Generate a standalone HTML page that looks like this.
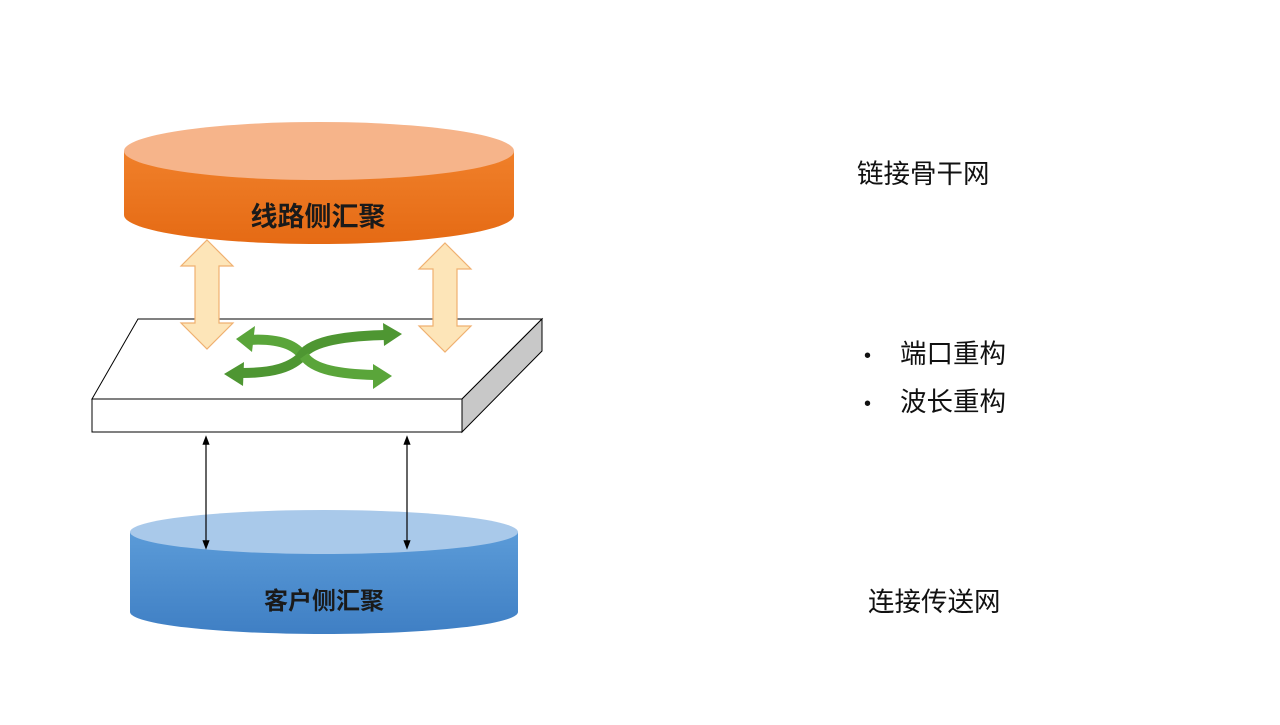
<!DOCTYPE html>
<html><head><meta charset="utf-8"><style>
body{margin:0;background:#fff;width:1280px;height:720px;overflow:hidden}
</style></head><body>
<svg width="1280" height="720" xmlns="http://www.w3.org/2000/svg" style="font-family:'Liberation Sans','Noto Sans CJK SC',sans-serif">
<defs>
<linearGradient id="og" x1="0" y1="0" x2="0" y2="1"><stop offset="0" stop-color="#f0802a"/><stop offset="1" stop-color="#e56a14"/></linearGradient>
<linearGradient id="bg" x1="0" y1="0" x2="0" y2="1"><stop offset="0" stop-color="#5b9bd8"/><stop offset="1" stop-color="#3f7fc4"/></linearGradient>
<marker id="ah" markerWidth="8" markerHeight="8" refX="4" refY="4" orient="auto-start-reverse"><path d="M0,1 L8,4 L0,7 z" fill="#000"/></marker>
</defs>
<path d="M124,151 L124,215 A195,29 0 0 0 514,215 L514,151 Z" fill="url(#og)"/>
<ellipse cx="319" cy="151" rx="195" ry="29" fill="#f6b48a"/>
<text x="318" y="226" font-size="27" font-weight="bold" text-anchor="middle" fill="#1a1a1a">线路侧汇聚</text>
<path d="M130,532 L130,612 A194,22 0 0 0 518,612 L518,532 Z" fill="url(#bg)"/>
<ellipse cx="324" cy="532" rx="194" ry="22" fill="#a9c9ea"/>
<text x="324" y="609" font-size="24" font-weight="bold" text-anchor="middle" fill="#1a1a1a">客户侧汇聚</text>
<polygon points="138,319 542,319 462,399 92,399" fill="#fff" stroke="#000" stroke-width="1"/>
<rect x="92" y="399" width="370" height="33" fill="#fff" stroke="#000" stroke-width="1"/>
<polygon points="462,399 542,319 542,351 462,432" fill="#c8c8c8" stroke="#000" stroke-width="1"/>
<g fill="#fde5b8" stroke="#f0b070" stroke-width="1.2">
<polygon points="207,240 233,266 219,266 219,323 233,323 207,349 181,323 195,323 195,266 181,266"/>
<polygon points="445,243 471,269 457,269 457,326 471,326 445,352 419,326 433,326 433,269 419,269"/>
</g>
<g fill="none" stroke-width="10">
<path d="M248,340 C280,338 298,345 305,360" stroke="#5aa53a"/>
<path d="M300,358 C308,342 340,336 385,335" stroke="#4e9632"/>
<path d="M242,373 C272,373 292,368 304,354" stroke="#4e9632"/>
<path d="M304,356 C314,370 340,374 374,375" stroke="#5aa53a"/>
</g>
<g>
<polygon points="236,339 255,326 252,352" fill="#5aa53a"/>
<polygon points="402,334 383,323 384,346" fill="#4e9632"/>
<polygon points="224,374 244,362 243,386" fill="#4e9632"/>
<polygon points="392,376 373,364 373,389" fill="#5aa53a"/>
</g>
<line x1="206" y1="440" x2="206" y2="545" stroke="#000" stroke-width="1.2" marker-start="url(#ah)" marker-end="url(#ah)"/>
<line x1="407" y1="440" x2="407" y2="545" stroke="#000" stroke-width="1.2" marker-start="url(#ah)" marker-end="url(#ah)"/>
<g font-size="26.5" fill="#111">
<text x="857" y="183">链接骨干网</text>
<text x="864" y="362" font-size="20">•</text>
<text x="900" y="363">端口重构</text>
<text x="864" y="410" font-size="20">•</text>
<text x="900" y="411">波长重构</text>
<text x="868" y="611">连接传送网</text>
</g>
</svg>
</body></html>
